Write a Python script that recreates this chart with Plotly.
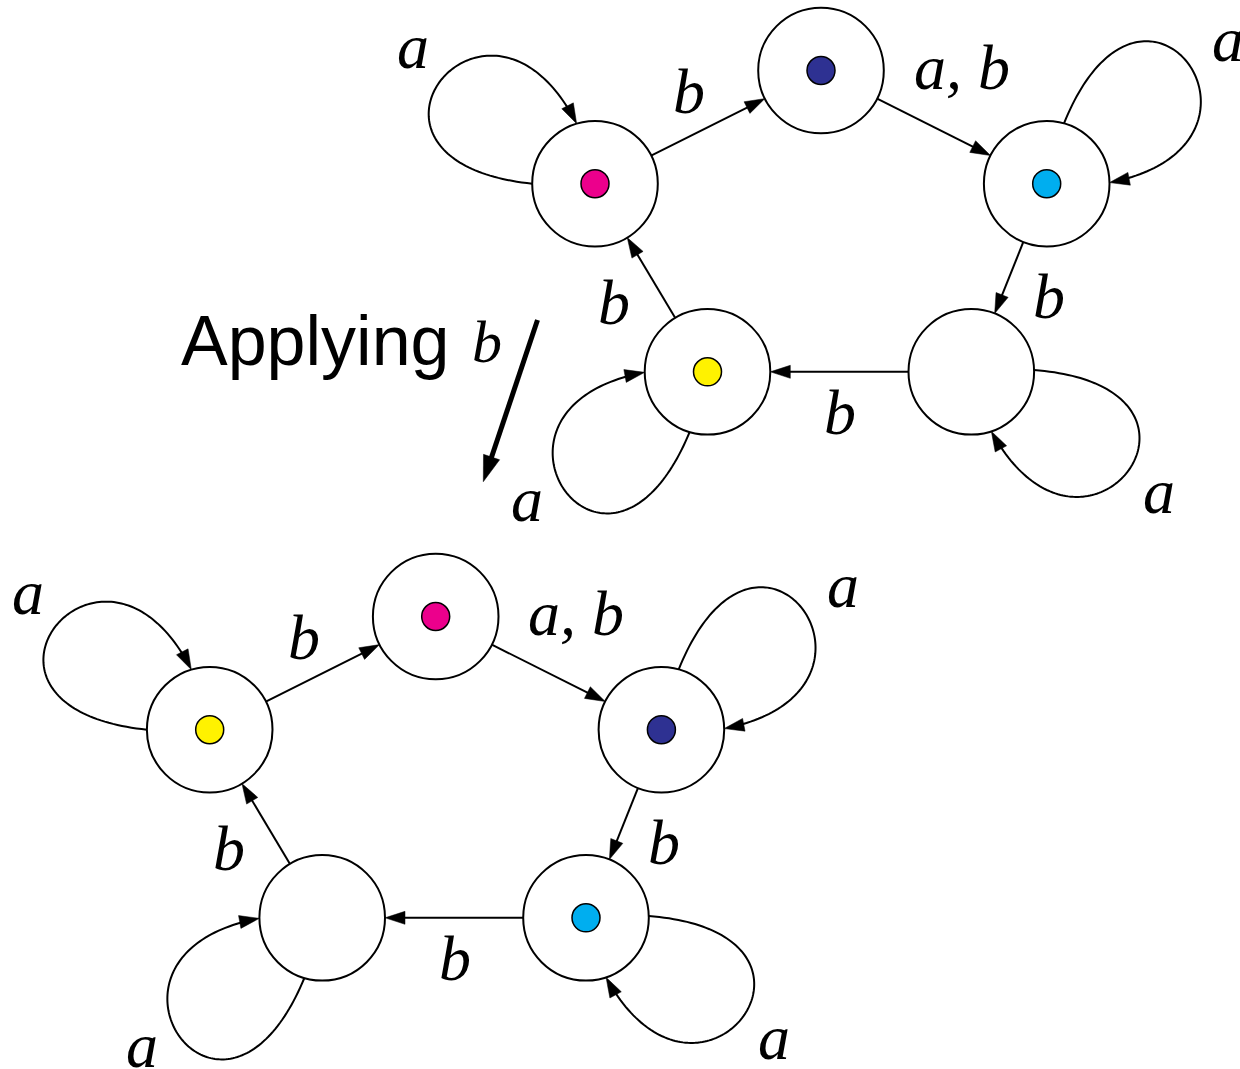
import numpy as np
import plotly.graph_objects as go

W, H = 1240, 1069

# ---- data: top automaton layout (pixel-like units) ----
node_x = [595.0, 821.0, 1046.7, 971.3, 707.5]
node_y = [183.7, 70.5, 183.7, 371.8, 371.8]
node_r = 62.8

top_tokens = ["#EC008C", "#2E3192", "#00AEEF", None, "#FFF200"]
bottom_tokens = ["#FFF200", "#EC008C", "#2E3192", "#00AEEF", None]
bottom_offset = (-385.3, 546.0)

edge_src = [0, 1, 2, 3, 4]
edge_dst = [1, 2, 3, 4, 0]
edge_lab = ["b", "a, b", "b", "b", "b"]
edge_lab_x = [689, 961.5, 1049, 840, 614]
edge_lab_y = [111.7, 88, 316.7, 433, 323]

loop_nodes = [0, 2, 3, 4]
loop_start_deg = [180, 286, 358.4, 106.5]
loop_lab = ["a", "a", "a", "a"]
loop_lab_x = [413, 1228, 1159, 527]
loop_lab_y = [67, 60, 512, 520]

title_text = "Applying"
title_b = "b"

# ---- styles ----
LW = 2.0
AL, AW = 20, 6.5
LAB_SIZE = 64
SERIF = "Liberation Serif"

shapes = []
annotations = []


def u(deg):
    t = np.deg2rad(deg)
    return np.array([np.cos(t), np.sin(t)])


def arrowhead(tip, d, L=AL, w=AW):
    d = d / np.linalg.norm(d)
    n = np.array([-d[1], d[0]])
    b = tip - L * d
    p1 = b + w * n
    p2 = b - w * n
    shapes.append(dict(type="path", xref="x", yref="y",
                       path=f"M {tip[0]:.2f},{tip[1]:.2f} L {p1[0]:.2f},{p1[1]:.2f} L {p2[0]:.2f},{p2[1]:.2f} Z",
                       fillcolor="black", line=dict(color="black", width=0.5)))


def label(x, y, txt, size=LAB_SIZE):
    # y given as baseline; anchor at middle of the text box
    annotations.append(dict(x=x, y=y - 0.3375 * size + 1, xref="x", yref="y",
                            text=f"<i>{txt}</i>", showarrow=False,
                            xanchor="center", yanchor="middle",
                            font=dict(family=SERIF, size=size, color="black")))


def draw_graph(ox, oy, tokens):
    C = [np.array([node_x[i] + ox, node_y[i] + oy]) for i in range(5)]
    # loops
    for k, ni in enumerate(loop_nodes):
        s = loop_start_deg[k]
        c = C[ni]
        P0 = c + node_r * u(s)
        P1 = P0 + 215 * u(s + 6)
        P3 = c + node_r * u(s + 73)
        P2 = P3 + 195 * u(s + 63)
        t = np.linspace(0, 1, 120)[:, None]
        pts = ((1 - t) ** 3) * P0 + 3 * ((1 - t) ** 2) * t * P1 + 3 * (1 - t) * t ** 2 * P2 + t ** 3 * P3
        dist = np.linalg.norm(pts - P3, axis=1)
        pts = pts[dist > AL * 0.8]
        path = "M " + " L ".join(f"{p[0]:.2f},{p[1]:.2f}" for p in pts)
        shapes.append(dict(type="path", xref="x", yref="y", path=path,
                           line=dict(color="black", width=LW)))
        arrowhead(P3, P3 - P2)
        label(loop_lab_x[k] + ox, loop_lab_y[k] + oy, loop_lab[k])
    # edges
    for k in range(len(edge_src)):
        a, b = C[edge_src[k]], C[edge_dst[k]]
        d = (b - a) / np.linalg.norm(b - a)
        p0 = a + node_r * d
        tip = b - node_r * d
        p1 = tip - AL * 0.8 * d
        shapes.append(dict(type="line", xref="x", yref="y",
                           x0=p0[0], y0=p0[1], x1=p1[0], y1=p1[1],
                           line=dict(color="black", width=LW)))
        arrowhead(tip, d)
        label(edge_lab_x[k] + ox, edge_lab_y[k] + oy, edge_lab[k])
    # nodes
    for i in range(5):
        c = C[i]
        shapes.append(dict(type="circle", xref="x", yref="y", layer="above",
                           x0=c[0] - node_r, x1=c[0] + node_r,
                           y0=c[1] - node_r, y1=c[1] + node_r,
                           fillcolor="white", line=dict(color="black", width=LW)))
        if tokens[i]:
            rr = 14
            shapes.append(dict(type="circle", xref="x", yref="y", layer="above",
                               x0=c[0] - rr, x1=c[0] + rr, y0=c[1] - rr, y1=c[1] + rr,
                               fillcolor=tokens[i], line=dict(color="black", width=1.5)))


draw_graph(0, 0, top_tokens)
draw_graph(bottom_offset[0], bottom_offset[1], bottom_tokens)

# big transformation arrow
A0 = np.array([537.5, 320.0])
A1 = np.array([483.3, 481.7])
dA = (A1 - A0) / np.linalg.norm(A1 - A0)
shapes.append(dict(type="line", xref="x", yref="y", x0=A0[0], y0=A0[1],
                   x1=(A1 - 20 * dA)[0], y1=(A1 - 20 * dA)[1],
                   line=dict(color="black", width=5)))
arrowhead(A1, dA, L=26, w=8.5)

annotations.append(dict(x=179, y=361.7 - 0.3 * 70, xref="x", yref="y",
                        text=title_text, showarrow=False, xanchor="left", yanchor="middle",
                        font=dict(family="Liberation Sans", size=70, color="black")))
label(487, 361.7, title_b, size=60)

fig = go.Figure()
fig.add_trace(go.Scatter(x=[None], y=[None], mode="markers", showlegend=False, hoverinfo="skip"))
fig.update_layout(
    width=W, height=H, margin=dict(l=0, r=0, t=0, b=0),
    paper_bgcolor="white", plot_bgcolor="white", showlegend=False,
    xaxis=dict(range=[0, W], visible=False, fixedrange=True),
    yaxis=dict(range=[H, 0], visible=False, fixedrange=True),
    shapes=shapes, annotations=annotations,
)
fig.write_html("out.html", config={"displayModeBar": False},
               post_script="document.body.style.margin='0';document.body.style.overflow='hidden';")
